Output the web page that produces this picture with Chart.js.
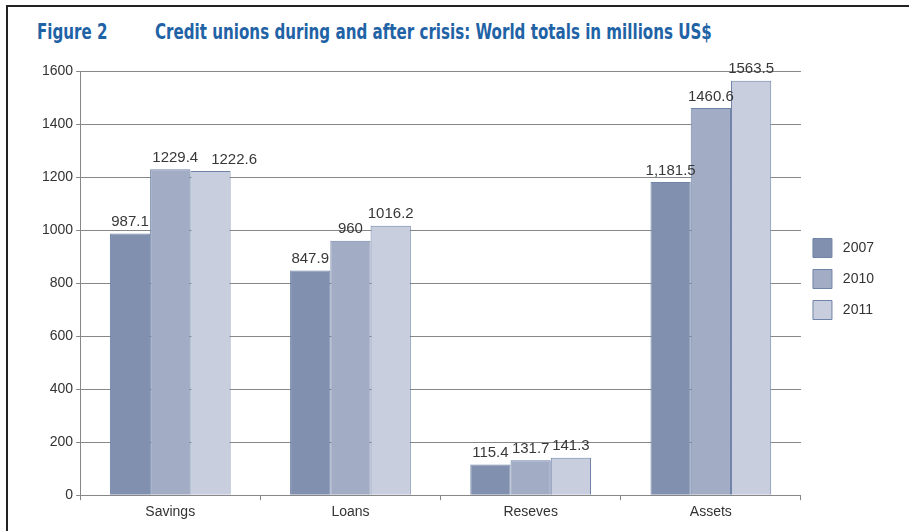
<!DOCTYPE html>
<html>
<head>
<meta charset="utf-8">
<script src="https://cdn.jsdelivr.net/npm/chart.js@4.4.1/dist/chart.umd.min.js"></script>
<style>
  html, body { margin: 0; padding: 0; background: #fff; }
  #wrap { position: relative; width: 909px; height: 531px; overflow: hidden; }
  #frame { position: absolute; left: 6px; top: 5px; width: 960px; height: 600px;
           border-left: 2px solid #222; border-top: 2px solid #222; }
  .title { position: absolute; top: 20px; font-family: 'Liberation Sans Narrow', 'DejaVu Sans Condensed', sans-serif;
           font-weight: bold; font-size: 21px; color: #1f63a6; white-space: nowrap;
           transform: scaleX(0.8); transform-origin: left center; }
  #chart { position: absolute; left: 0; top: 0; }
</style>
</head>
<body>
<div id="wrap">
  <div id="frame"></div>
  <div class="title" style="left:37px">Figure 2</div>
  <div class="title" style="left:155px">Credit unions during and after crisis: World totals in millions US$</div>
  <canvas id="chart" width="909" height="531"></canvas>
</div>
<script>
// Datos
const categories = ['Savings', 'Loans', 'Reseves', 'Assets'];
const seriesNames = ['2007', '2010', '2011'];
const values2007 = [987.1, 847.9, 115.4, 1181.5];
const values2010 = [1229.4, 960, 131.7, 1460.6];
const values2011 = [1222.6, 1016.2, 141.3, 1563.5];
// Etiquetas tal como aparecen impresas
const text2007 = ['987.1', '847.9', '115.4', '1,181.5'];
const text2010 = ['1229.4', '960', '131.7', '1460.6'];
const text2011 = ['1222.6', '1016.2', '141.3', '1563.5'];

const colors = ['#8090ae', '#a3acc5', '#c8cedd'];
const gridColor = '#878787';
const font = "'Liberation Sans', Arial, sans-serif";

// Plugin simple para etiquetas encima de las barras
// (si dos etiquetas vecinas se pisan, se separan hacia la derecha)
const valueLabels = {
  id: 'valueLabels',
  afterDatasetsDraw(chart) {
    const { ctx } = chart;
    ctx.save();
    ctx.font = '15px ' + font;
    ctx.fillStyle = '#383838';
    ctx.textAlign = 'center';
    ctx.textBaseline = 'bottom';
    const metas = chart.data.datasets.map((ds, i) => chart.getDatasetMeta(i));
    categories.forEach((cat, j) => {
      const items = chart.data.datasets.map((ds, i) => {
        const bar = metas[i].data[j];
        const text = ds.valueText[j];
        return { text, x: bar.x, y: bar.y - 4, w: ctx.measureText(text).width };
      });
      for (let k = 1; k < items.length; k++) {
        const prev = items[k - 1], cur = items[k];
        if (cur.x - cur.w / 2 < prev.x + prev.w / 2 && Math.abs(cur.y - prev.y) < 16) {
          prev.x += 5;
          cur.x = prev.x + prev.w / 2 + 13 + cur.w / 2;
        }
      }
      items.forEach((it) => ctx.fillText(it.text, it.x, it.y));
    });
    ctx.restore();
  }
};

// Subir un poco la leyenda
const legendShift = {
  id: 'legendShift',
  afterLayout(chart) {
    chart.legend.top -= 19;
    chart.legend.bottom -= 19;
  }
};

const textSets = [text2007, text2010, text2011];
const datasets = [values2007, values2010, values2011].map((data, i) => ({
  label: seriesNames[i],
  data,
  valueText: textSets[i],
  backgroundColor: colors[i],
  borderColor: '#6f84a8',
  borderWidth: 1,
  categoryPercentage: 0.67,
  barPercentage: 1,
}));

Chart.defaults.font.family = font;
Chart.defaults.color = '#333';
const defaultLabels = Chart.defaults.plugins.legend.labels.generateLabels;

new Chart(document.getElementById('chart'), {
  type: 'bar',
  data: { labels: categories, datasets },
  options: {
    responsive: false,
    animation: false,
    layout: { padding: { top: 71, left: 39, right: 25, bottom: 6 } },
    plugins: {
      legend: {
        position: 'right',
        labels: {
          boxWidth: 19, boxHeight: 19, padding: 12, font: { size: 14 }, color: '#333',
          generateLabels: (chart) => defaultLabels(chart).map((l) => ({ ...l, text: ' ' + l.text })),
        },
      },
      tooltip: { enabled: false },
    },
    scales: {
      x: {
        grid: {
          offset: true,
          color: (c) => (c.index === categories.length ? gridColor : 'transparent'),
          tickColor: gridColor,
          tickLength: 5,
        },
        border: { color: gridColor },
        ticks: { font: { size: 14 }, padding: 4, color: '#333' },
      },
      y: {
        min: 0,
        max: 1600,
        ticks: { stepSize: 200, font: { size: 14 }, padding: 3, color: '#333', callback: (v) => String(v) },
        grid: { color: gridColor, tickColor: gridColor, tickLength: 4 },
        border: { color: gridColor },
      },
    },
  },
  plugins: [valueLabels, legendShift],
});
</script>
</body>
</html>
